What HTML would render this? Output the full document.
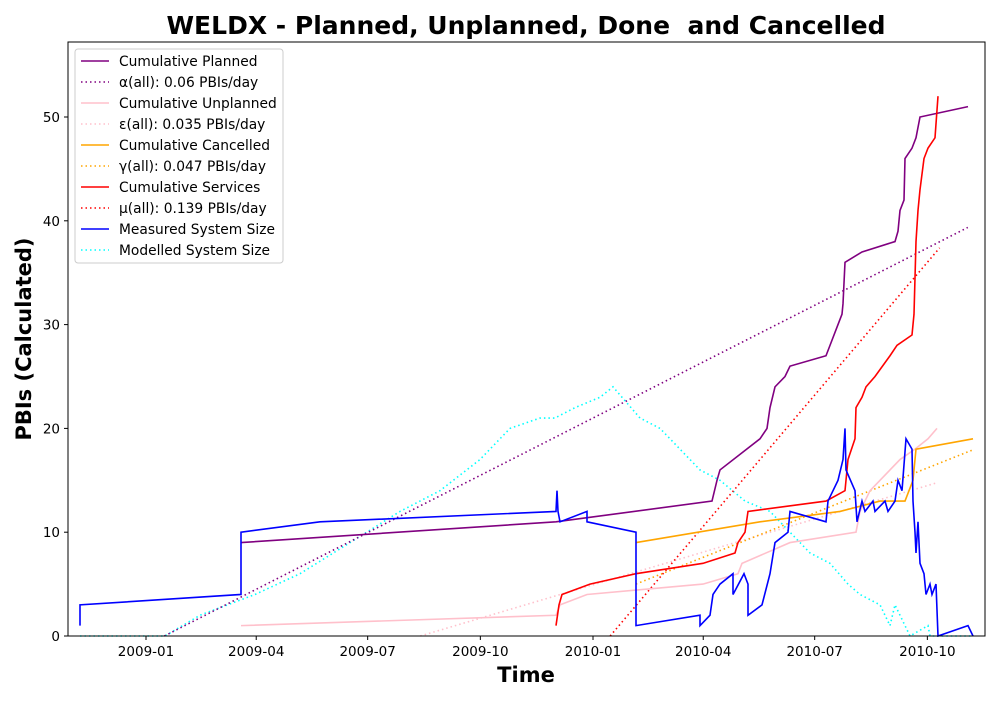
<!DOCTYPE html>
<html><head><meta charset="utf-8"><style>
body{margin:0;background:#fff;font-family:"Liberation Sans","DejaVu Sans",sans-serif}
svg text{font-family:"DejaVu Sans","Liberation Sans",sans-serif;white-space:pre}
</style></head><body>
<svg id="c" width="1000" height="700" xmlns="http://www.w3.org/2000/svg"></svg>
<script>
const xTickLabels=["2009-01","2009-04","2009-07","2009-10","2010-01","2010-04","2010-07","2010-10"];
const xTickDays=[0,90,181,273,365,455,546,638];
const yTicks=[0,10,20,30,40,50];
const plannedPx=[[241,9],[556,11],[712,13],[717,15],[720,16],[760,19],[767,20],[770,22],[775,24],[785,25],[790,26],[826,27],[830,28],[838,30],[842,31],[843,32],[845,36],[862,37],[895,38],[898,39],[900,41],[904,42],[905,46],[912,47],[916,48],[918,49],[920,50],[968,51]];
const unplannedPx=[[241,1],[556,2],[560,3],[587,4],[703,5],[738,6],[742,7],[790,9],[856,10],[860,12],[870,14],[880,15],[900,17],[915,18],[928,19],[937,20]];
const cancelledPx=[[636,9],[760,11],[840,12],[880,13],[905,13],[913,15],[916,18],[973,19]];
const servicesPx=[[556,1],[559,3],[562,4],[590,5],[636,6],[703,7],[735,8],[738,9],[745,10],[748,12],[826,13],[845,14],[848,17],[855,19],[856,22],[862,23],[866,24],[875,25],[890,27],[897,28],[912,29],[914,31],[916,38],[918,41],[920,43],[924,46],[928,47],[935,48],[938,52]];
const measuredPx=[[80,1],[80,3],[241,4],[241,10],[320,11],[556,12],[557,14],[558,12],[560,11],[587,12],[587,11],[636,10],[636,1],[700,2],[700,1],[710,2],[713,4],[720,5],[733,6],[733,4],[744,6],[748,5],[748,2],[762,3],[770,6],[775,9],[788,10],[790,12],[826,11],[828,13],[838,15],[843,17],[845,20],[846,16],[855,14],[857,11],[862,13],[865,12],[873,13],[875,12],[885,13],[888,12],[895,13],[898,15],[902,14],[906,19],[912,18],[913,13],[915,10],[916,8],[918,11],[920,7],[924,6],[926,4],[930,5],[932,4],[936,5],[938,0],[968,1],[973,0]];
const modelledPx=[[80,0],[146,0],[165,0],[200,2],[255,4],[300,6],[350,9],[400,12],[440,14],[480,17],[510,20],[540,21],[555,21],[575,22],[600,23],[613,24],[640,21],[660,20],[680,18],[700,16],[720,15],[745,13],[770,12],[790,10],[810,8],[830,7],[848,5],[860,4],[880,3],[890,1],[895,3],[905,1],[910,0],[928,1],[930,0],[973,0]];
// trend lines: [startDay,endDay,rate,startValue]
const alphaTrend=[15,671,0.06,0];
const epsTrend=[224,646,0.035,0];
const gammaTrend=[400,675,0.047,5];
const muTrend=[379,648,0.139,0];

const X0=146,PPD=1.2247,Y0=636,PPU=10.38;
const toDay=p=>(p-X0)/PPD;
const xs=d=>X0+d*PPD, ys=v=>Y0-v*PPU;
const NS="http://www.w3.org/2000/svg",svg=document.getElementById('c');
function mk(t,a,p){const e=document.createElementNS(NS,t);for(const k in a)e.setAttribute(k,a[k]);(p||svg).appendChild(e);return e;}
const cp=mk('clipPath',{id:'cl'});mk('rect',{x:68,y:40,width:917,height:597},cp);
const plot=mk('g',{'clip-path':'url(#cl)'});

function series(px,col,dash,name){const d=px.map(p=>[toDay(p[0]),p[1]]);
 const e=mk('polyline',{points:d.map(p=>xs(p[0])+','+ys(p[1])).join(' '),fill:'none',stroke:col,'stroke-width':1.6,'stroke-dasharray':dash||'none'},plot);
 }
function trend(t,col,name){const e=mk('line',{x1:xs(t[0]),y1:ys(t[3]),x2:xs(t[1]),y2:ys(t[3]+t[2]*(t[1]-t[0])),stroke:col,'stroke-width':1.6,'stroke-dasharray':'1.5 3'},plot);
 }
series(modelledPx,'cyan','1.5 3','modelled-system-size-line');
trend(alphaTrend,'purple','alpha-trend-line');
trend(epsTrend,'pink','epsilon-trend-line');
trend(gammaTrend,'orange','gamma-trend-line');
trend(muTrend,'red','mu-trend-line');
series(plannedPx,'purple',null,'cumulative-planned-line');
series(unplannedPx,'pink',null,'cumulative-unplanned-line');
series(cancelledPx,'orange',null,'cumulative-cancelled-line');
series(servicesPx,'red',null,'cumulative-services-line');
series(measuredPx,'blue',null,'measured-system-size-line');
const fr=mk('rect',{x:68,y:42,width:917,height:594,fill:'none',stroke:'#000','stroke-width':1});

xTickDays.forEach((d,i)=>{const x=xs(d);mk('line',{x1:x,y1:636,x2:x,y2:640,stroke:'#000'});
 const t=mk('text',{x:x,y:656,'text-anchor':'middle','font-size':13.5});t.textContent=xTickLabels[i];
 });
yTicks.forEach(v=>{const y=ys(v);mk('line',{x1:64,y1:y,x2:68,y2:y,stroke:'#000'});
 const t=mk('text',{x:60,y:y+5,'text-anchor':'end','font-size':13.5});t.textContent=v;
 });
let t=mk('text',{x:526,y:34,'text-anchor':'middle','font-size':25,'font-weight':'bold'});t.textContent='WELDX - Planned, Unplanned, Done  and Cancelled';

t=mk('text',{x:526,y:682,'text-anchor':'middle','font-size':21,'font-weight':'bold'});t.textContent='Time';

t=mk('text',{x:31,y:339,'text-anchor':'middle','font-size':21,'font-weight':'bold',transform:'rotate(-90 31 339)'});t.textContent='PBIs (Calculated)';

const lg=mk('g',{});
mk('rect',{x:75,y:49,width:208,height:214,rx:3,fill:'#fff',stroke:'#ccc','fill-opacity':0.8},lg);
const legendLabels=['Cumulative Planned','α(all): 0.06 PBIs/day','Cumulative Unplanned','ε(all): 0.035 PBIs/day','Cumulative Cancelled','γ(all): 0.047 PBIs/day','Cumulative Services','μ(all): 0.139 PBIs/day','Measured System Size','Modelled System Size'];
const legendColors=['purple','purple','pink','pink','orange','orange','red','red','blue','cyan'];
const legendDotted=[0,1,0,1,0,1,0,1,0,1];
legendLabels.forEach((s,i)=>{const y=61+i*21.0;
 const g=mk('g',{},lg);
 mk('line',{x1:81,y1:y,x2:109,y2:y,stroke:legendColors[i],'stroke-width':1.6,'stroke-dasharray':legendDotted[i]?'1.5 3':'none'},g);
 const tt=mk('text',{x:119,y:y+5,'font-size':13.8},g);tt.textContent=s;});
</script>
</body></html>
